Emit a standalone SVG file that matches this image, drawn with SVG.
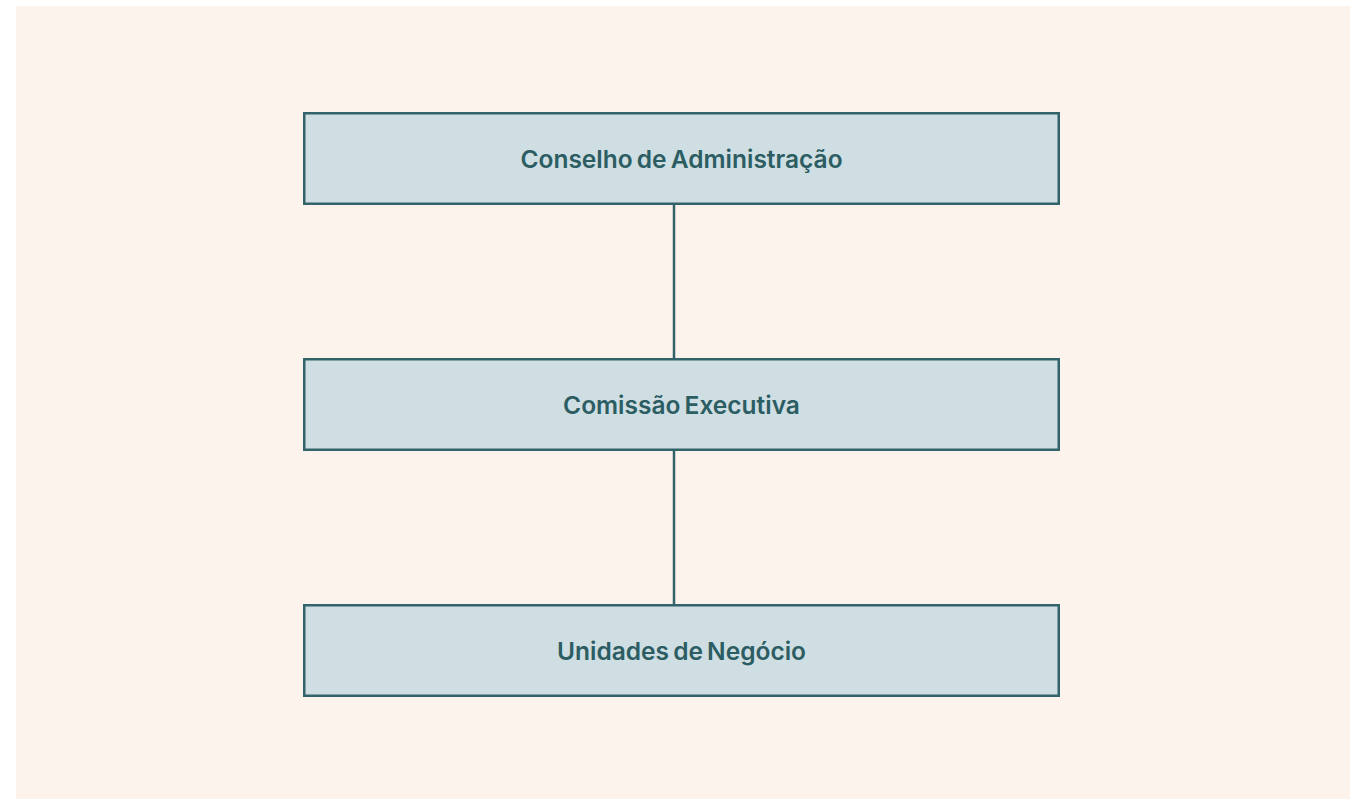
<svg xmlns="http://www.w3.org/2000/svg" width="1350" height="799" viewBox="0 0 1350 799">
<style>
.box{fill:#cfdee2;stroke:#33636a;stroke-width:2.5}
.lbl{font-family:Inter,"Liberation Sans",sans-serif;font-weight:600;font-size:24.5px;fill:#2c5d63;text-anchor:middle;word-spacing:-2px}
.conn{stroke:#33636a;stroke-width:2.5;fill:none}
</style>
<rect x="0" y="0" width="1350" height="799" fill="#ffffff"/>
<rect x="16" y="6" width="1334" height="793" fill="#fdf3ed"/>
<g id="connectors">
<line class="conn" x1="674" y1="204" x2="674" y2="359"/>
<line class="conn" x1="674" y1="450" x2="674" y2="605"/>
</g>
<g id="node-conselho">
<rect class="box" x="304.25" y="113.25" width="754.5" height="90.5"/>
<text class="lbl" x="681.5" y="167.5">Conselho de Administração</text>
</g>
<g id="node-comissao">
<rect class="box" x="304.25" y="359.25" width="754.5" height="90.5"/>
<text class="lbl" x="681.5" y="413.5">Comissão Executiva</text>
</g>
<g id="node-unidades">
<rect class="box" x="304.25" y="605.25" width="754.5" height="90.5"/>
<text class="lbl" x="681.5" y="659.5">Unidades de Negócio</text>
</g>
</svg>
